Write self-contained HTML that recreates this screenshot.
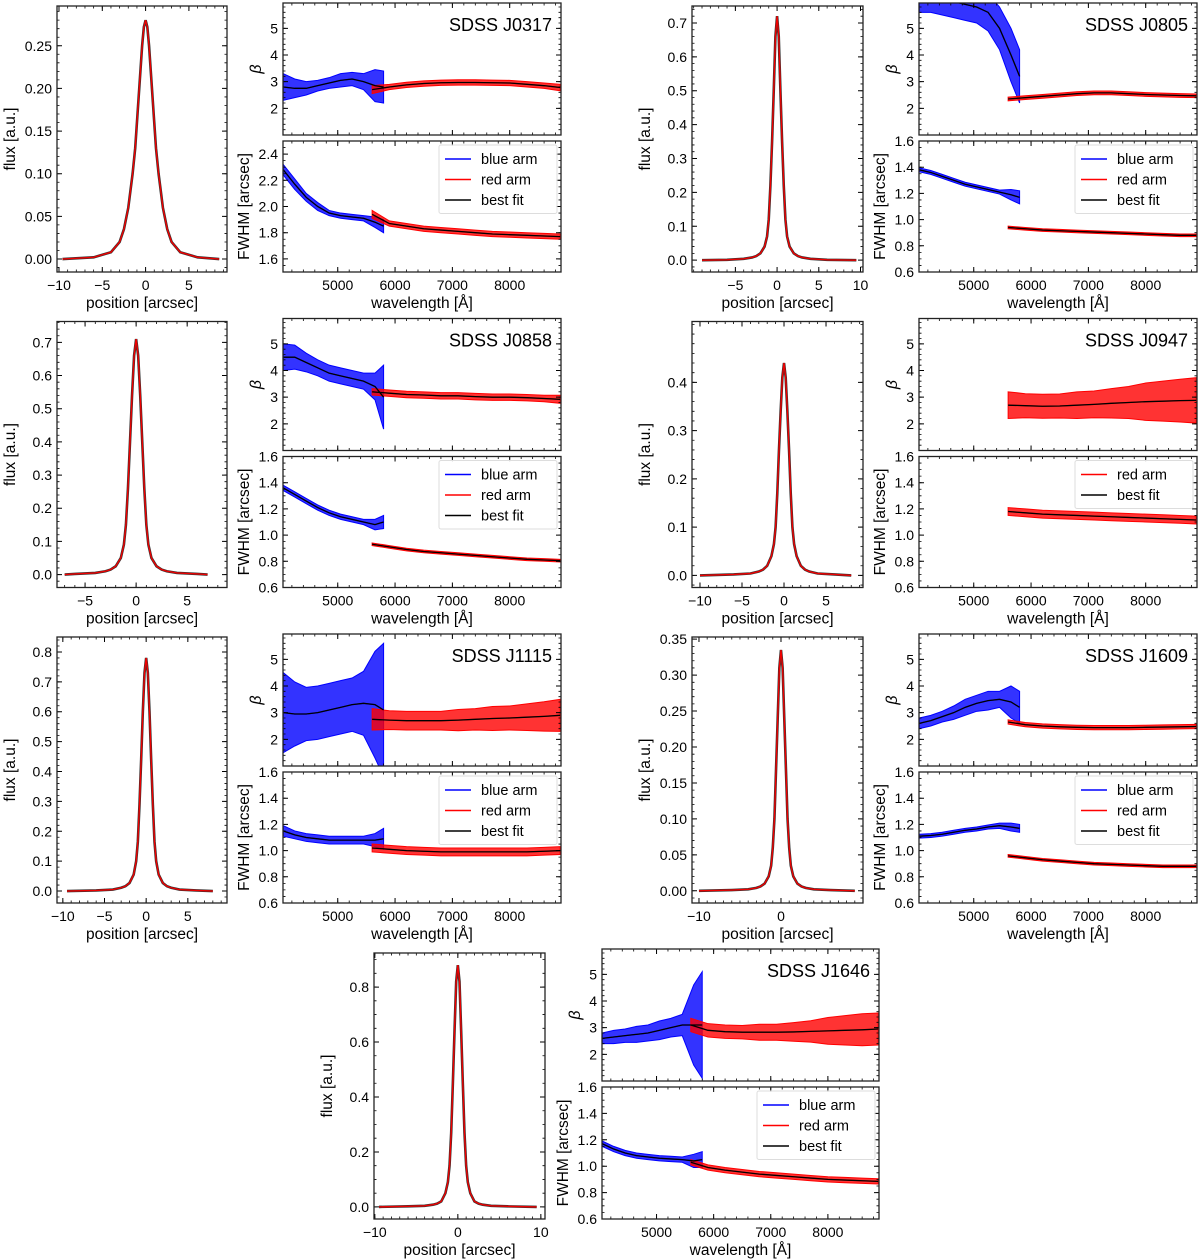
<!DOCTYPE html>
<html><head><meta charset="utf-8"><style>
html,body{margin:0;padding:0;background:#fff;}
svg{display:block;font-family:"Liberation Sans","DejaVu Sans",sans-serif;}
</style></head><body>
<svg id="fig" width="1200" height="1260" viewBox="0 0 1200 1260" xmlns="http://www.w3.org/2000/svg"></svg>
<script>
// ---- data ----
const objectNames = ["SDSS J0317","SDSS J0805","SDSS J0858","SDSS J0947","SDSS J1115","SDSS J1609","SDSS J1646"];
const blueWave = [4050,4250,4450,4650,4850,5050,5250,5450,5650,5800];
const redWave = [5600,5900,6200,6500,6800,7100,7400,7700,8000,8300,8600,8880];
const profilePos = [-10,-6,-4,-3,-2.5,-2,-1.5,-1.2,-1,-0.8,-0.6,-0.4,-0.2,0,0.2,0.4,0.6,0.8,1,1.2,1.5,2,2.5,3,4,6,10];

const betaBlue = [
 [2.8,2.75,2.75,2.85,2.95,3.05,3.1,3.0,2.85,2.8],
 [6.2,6.2,6.1,6.0,5.9,5.8,5.6,5.0,4.0,3.2],
 [4.5,4.5,4.3,4.1,3.9,3.8,3.7,3.6,3.4,3.0],
 null,
 [3.0,2.95,2.95,3.0,3.1,3.2,3.3,3.35,3.3,3.1],
 [2.6,2.7,2.85,3.0,3.2,3.35,3.45,3.5,3.4,3.2],
 [2.6,2.65,2.7,2.75,2.8,2.9,3.0,3.1,3.1,3.1]];
const betaBlueSpread = [
 [0.5,0.35,0.25,0.2,0.2,0.25,0.25,0.3,0.6,0.6],
 [0.6,0.6,0.6,0.6,0.6,0.6,0.7,0.8,1.0,1.0],
 [0.5,0.45,0.35,0.3,0.3,0.3,0.3,0.3,0.5,1.2],
 null,
 [1.5,1.2,1.0,1.0,1.0,1.0,1.0,1.2,2.0,2.5],
 [0.2,0.2,0.2,0.25,0.3,0.3,0.35,0.3,0.6,0.6],
 [0.2,0.25,0.25,0.3,0.3,0.35,0.35,0.4,1.5,2.0]];
const betaRed = [
 [2.7,2.8,2.88,2.93,2.96,2.97,2.97,2.96,2.95,2.9,2.85,2.78],
 [2.35,2.4,2.45,2.5,2.55,2.58,2.58,2.55,2.52,2.5,2.48,2.47],
 [3.2,3.15,3.1,3.08,3.05,3.05,3.02,3.0,3.0,2.98,2.95,2.92],
 [2.7,2.68,2.66,2.67,2.7,2.73,2.77,2.8,2.83,2.85,2.87,2.88],
 [2.75,2.72,2.7,2.7,2.7,2.72,2.75,2.78,2.8,2.83,2.86,2.9],
 [2.65,2.55,2.5,2.47,2.45,2.44,2.44,2.44,2.45,2.46,2.47,2.48],
 [3.1,2.9,2.85,2.83,2.83,2.83,2.84,2.86,2.88,2.9,2.92,2.95]];
const betaRedSpread = [
 [0.15,0.1,0.1,0.1,0.1,0.1,0.1,0.1,0.1,0.1,0.1,0.12],
 [0.07,0.07,0.07,0.07,0.07,0.07,0.07,0.07,0.07,0.07,0.07,0.07],
 [0.12,0.12,0.12,0.12,0.12,0.12,0.12,0.12,0.12,0.12,0.12,0.15],
 [0.5,0.45,0.45,0.45,0.5,0.5,0.55,0.6,0.7,0.75,0.8,0.85],
 [0.4,0.35,0.35,0.35,0.35,0.4,0.4,0.45,0.45,0.5,0.55,0.6],
 [0.08,0.08,0.08,0.08,0.08,0.08,0.08,0.08,0.08,0.08,0.08,0.08],
 [0.25,0.25,0.25,0.25,0.3,0.3,0.35,0.4,0.5,0.55,0.6,0.6]];
const fwhmBlue = [
 [2.28,2.17,2.07,2.0,1.95,1.93,1.92,1.91,1.88,1.85],
 [1.38,1.36,1.33,1.30,1.27,1.25,1.23,1.21,1.19,1.17],
 [1.36,1.31,1.26,1.21,1.17,1.14,1.12,1.10,1.08,1.10],
 null,
 [1.15,1.12,1.10,1.09,1.08,1.08,1.08,1.08,1.08,1.09],
 [1.11,1.115,1.125,1.14,1.155,1.165,1.18,1.19,1.18,1.17],
 [1.17,1.13,1.10,1.08,1.07,1.06,1.055,1.05,1.04,1.05]];
const fwhmBlueSpread = [
 [0.04,0.04,0.03,0.03,0.02,0.02,0.02,0.02,0.04,0.05],
 [0.015,0.015,0.015,0.015,0.015,0.015,0.015,0.015,0.04,0.05],
 [0.02,0.02,0.02,0.02,0.02,0.02,0.02,0.02,0.04,0.05],
 null,
 [0.04,0.03,0.03,0.03,0.03,0.03,0.03,0.03,0.05,0.08],
 [0.015,0.015,0.015,0.015,0.015,0.015,0.015,0.02,0.03,0.03],
 [0.02,0.02,0.02,0.02,0.02,0.02,0.02,0.02,0.05,0.06]];
const fwhmRed = [
 [1.94,1.87,1.85,1.83,1.82,1.81,1.80,1.79,1.785,1.78,1.775,1.77],
 [0.94,0.93,0.92,0.915,0.91,0.905,0.90,0.895,0.89,0.885,0.88,0.88],
 [0.93,0.91,0.89,0.875,0.865,0.855,0.845,0.835,0.825,0.815,0.81,0.805],
 [1.18,1.17,1.16,1.155,1.15,1.145,1.14,1.135,1.13,1.125,1.12,1.115],
 [1.02,1.01,1.0,0.995,0.99,0.99,0.99,0.99,0.99,0.99,0.995,1.0],
 [0.96,0.945,0.93,0.92,0.91,0.90,0.895,0.89,0.885,0.88,0.88,0.88],
 [1.03,0.99,0.97,0.955,0.94,0.93,0.92,0.91,0.90,0.895,0.89,0.885]];
const fwhmRedSpread = [
 [0.03,0.02,0.02,0.02,0.02,0.02,0.02,0.02,0.02,0.02,0.02,0.02],
 [0.01,0.01,0.01,0.01,0.01,0.01,0.01,0.01,0.01,0.01,0.01,0.01],
 [0.01,0.01,0.01,0.01,0.01,0.01,0.01,0.01,0.01,0.01,0.01,0.01],
 [0.03,0.03,0.03,0.03,0.03,0.03,0.03,0.03,0.03,0.03,0.03,0.03],
 [0.03,0.03,0.03,0.03,0.03,0.03,0.03,0.03,0.03,0.03,0.03,0.03],
 [0.01,0.01,0.01,0.01,0.01,0.01,0.01,0.01,0.01,0.01,0.01,0.01],
 [0.02,0.02,0.02,0.02,0.02,0.02,0.02,0.02,0.02,0.02,0.02,0.02]];
const profileFlux = [
 [0,0.002,0.008,0.02,0.035,0.06,0.1,0.13,0.16,0.19,0.22,0.25,0.272,0.28,0.272,0.25,0.22,0.19,0.16,0.13,0.1,0.06,0.035,0.02,0.008,0.002,0],
 [0,0.001,0.004,0.008,0.012,0.02,0.04,0.07,0.12,0.22,0.35,0.5,0.66,0.72,0.66,0.5,0.35,0.22,0.12,0.07,0.04,0.02,0.012,0.008,0.004,0.001,0],
 [0,0.002,0.005,0.01,0.015,0.025,0.05,0.09,0.15,0.26,0.4,0.54,0.66,0.71,0.66,0.54,0.4,0.26,0.15,0.09,0.05,0.025,0.015,0.01,0.005,0.002,0],
 [0,0.002,0.004,0.008,0.012,0.02,0.04,0.065,0.1,0.17,0.26,0.34,0.41,0.44,0.41,0.34,0.26,0.17,0.1,0.065,0.04,0.02,0.012,0.008,0.004,0.002,0],
 [0,0.002,0.005,0.011,0.016,0.027,0.055,0.1,0.165,0.29,0.44,0.6,0.73,0.78,0.73,0.6,0.44,0.29,0.165,0.1,0.055,0.027,0.016,0.011,0.005,0.002,0],
 [0,0.001,0.002,0.004,0.006,0.01,0.02,0.035,0.06,0.1,0.17,0.24,0.31,0.335,0.31,0.24,0.17,0.1,0.06,0.035,0.02,0.01,0.006,0.004,0.002,0.001,0],
 [0,0.002,0.004,0.008,0.012,0.02,0.05,0.09,0.15,0.27,0.45,0.64,0.82,0.88,0.82,0.64,0.45,0.27,0.15,0.09,0.05,0.02,0.012,0.008,0.004,0.002,0]];
const profXRange = [[-10.23,9.4],[-10.2,10.3],[-7.75,8.9],[-10.95,9.4],[-10.7,9.7],[-10.85,10.0],[-10.1,10.5]];
const profYRange = [[-0.0152,0.2966],[-0.035,0.75],[-0.039,0.763],[-0.025,0.526],[-0.04,0.85],[-0.017,0.353],[-0.044,0.924]];
const profDataRange = [[-9.6,8.5],[-9,9.5],[-7,7],[-10,8],[-9.5,8],[-10,9],[-9.5,9.5]];
const profYTicks = [[0,0.05,0.1,0.15,0.2,0.25],[0,0.1,0.2,0.3,0.4,0.5,0.6,0.7],[0,0.1,0.2,0.3,0.4,0.5,0.6,0.7],[0,0.1,0.2,0.3,0.4],[0,0.1,0.2,0.3,0.4,0.5,0.6,0.7,0.8],[0,0.05,0.1,0.15,0.2,0.25,0.3,0.35],[0,0.2,0.4,0.6,0.8]];
const profYDec = [2,1,1,1,1,2,1];
const profYMinor = [0.01,0.02,0.02,0.02,0.02,0.01,0.05];
const profXTicks = [[-10,-5,0,5],[-5,0,5,10],[-5,0,5],[-10,-5,0,5],[-10,-5,0,5],[-10,0],[-10,0,10]];
const fwhmRange = [[1.5,2.5],[0.6,1.6],[0.6,1.6],[0.6,1.6],[0.6,1.6],[0.6,1.6],[0.6,1.6]];
const fwhmTicks = [[1.6,1.8,2.0,2.2,2.4],[0.6,0.8,1.0,1.2,1.4,1.6],[0.6,0.8,1.0,1.2,1.4,1.6],[0.6,0.8,1.0,1.2,1.4,1.6],[0.6,0.8,1.0,1.2,1.4,1.6],[0.6,0.8,1.0,1.2,1.4,1.6],[0.6,0.8,1.0,1.2,1.4,1.6]];
const betaTicks = [2,3,4,5];
const waveTicks = [5000,6000,7000,8000];
const betaRange = [1.0,5.95];
const waveRange = [4045,8895];

// ---- layout ----
function layout(i){
  if(i===6) return {px:[374,545],py:[953,1219],bx:[602,879],by:[949,1081],fy:[1087,1219]};
  const col=i%2, row=Math.floor(i/2), o=row*315.5;
  const px = col? [692,863]:[57,227];
  const bx = col? [919,1197]:[283,561];
  return {px:px,py:[6+o,272+o],bx:bx,by:[3+o,135+o],fy:[141+o,272+o]};
}
const NS="http://www.w3.org/2000/svg";
const fig=document.getElementById('fig');
function el(tag,attrs,parent){const e=document.createElementNS(NS,tag);for(const k in attrs)e.setAttribute(k,attrs[k]);(parent||fig).appendChild(e);return e;}
function fmt(v,d){const s=Math.abs(v).toFixed(d);return (v<-1e-9?"\u2212":"")+s;}
let clipId=0;
const TICKFS=14, LABFS=15.5;

function axesFrame(g,x0,x1,y0,y1,sx,sy,xt,xmin,yt,ymin,xlab,xdec,ydec,name){
  if(xmin){const a=Math.ceil(sx.d0/xmin),b=Math.floor(sx.d1/xmin);for(let k=a;k<=b;k++){const X=sx(k*xmin);
    const t=el('path',{d:`M${X},${y1}v-2.5M${X},${y0}v2.5`,stroke:'#000','stroke-width':0.8},g);
    }}
  if(ymin){const a=Math.ceil(sy.d0/ymin-1e-6),b=Math.floor(sy.d1/ymin+1e-6);for(let k=a;k<=b;k++){const Y=sy(k*ymin);
    const t=el('path',{d:`M${x0},${Y}h2.5M${x1},${Y}h-2.5`,stroke:'#000','stroke-width':0.8},g);
    }}
  xt.forEach(v=>{const X=sx(v);
    const t=el('path',{d:`M${X},${y1}v-5M${X},${y0}v5`,stroke:'#000','stroke-width':1},g);
    
    if(xlab){const l=el('text',{x:X,y:y1+18,'font-size':TICKFS,'text-anchor':'middle'},g);l.textContent=fmt(v,xdec);
    }});
  yt.forEach(v=>{const Y=sy(v);
    const t=el('path',{d:`M${x0},${Y}h5M${x1},${Y}h-5`,stroke:'#000','stroke-width':1},g);
    
    const l=el('text',{x:x0-5,y:Y+5,'font-size':TICKFS,'text-anchor':'end'},g);l.textContent=fmt(v,ydec);
    });
  const f=el('rect',{x:x0,y:y0,width:x1-x0,height:y1-y0,fill:'none',stroke:'#222','stroke-width':1.3},g);
  
}
function scale(d0,d1,r0,r1){const s=v=>r0+(v-d0)*(r1-r0)/(d1-d0);s.d0=Math.min(d0,d1);s.d1=Math.max(d0,d1);return s;}
function clip(g,x0,y0,w,h){const id='c'+(clipId++);const cp=el('clipPath',{id:id},g);el('rect',{x:x0,y:y0,width:w,height:h},cp);return 'url(#'+id+')';}
function band(g,sx,sy,W,mid,spr,color,name){
  let pts=[];for(let k=0;k<W.length;k++)pts.push(sx(W[k])+','+sy(mid[k]+spr[k]));
  for(let k=W.length-1;k>=0;k--)pts.push(sx(W[k])+','+sy(mid[k]-spr[k]));
  const p=el('polygon',{points:pts.join(' '),fill:color,'fill-opacity':0.8,stroke:color,'stroke-width':1},g);
  
  const l=el('polyline',{points:W.map((w,k)=>sx(w)+','+sy(mid[k])).join(' '),fill:'none',stroke:color,'stroke-width':1.2},g);
  
}
function fitLine(g,sx,sy,W,mid,name){
  const l=el('polyline',{points:W.map((w,k)=>sx(w)+','+sy(mid[k])).join(' '),fill:'none',stroke:'#000','stroke-width':1.3},g);
  
}

for(let i=0;i<7;i++){
  const L=layout(i);
  const g=el('g',{});
  
  
  // ---- profile ----
  const sx=scale(profXRange[i][0],profXRange[i][1],L.px[0],L.px[1]);
  const sy=scale(profYRange[i][0],profYRange[i][1],L.py[1],L.py[0]);
  const pg=el('g',{},g);
  
  
  const cpP=clip(pg,L.px[0],L.py[0],L.px[1]-L.px[0],L.py[1]-L.py[0]);
  const dg=el('g',{'clip-path':cpP},pg);
  const pts=profilePos.map((p,k)=>[Math.max(profDataRange[i][0],Math.min(profDataRange[i][1],p)),profileFlux[i][k]]);
  const pd=el('polyline',{points:pts.map(q=>sx(q[0])+','+sy(q[1])).join(' '),fill:'none',stroke:'#333','stroke-width':2.6},dg);
  
  
  const pf=el('polyline',{points:pts.map(q=>sx(q[0])+','+sy(q[1])).join(' '),fill:'none',stroke:'#e00','stroke-width':1.4},dg);
  
  
  axesFrame(pg,L.px[0],L.px[1],L.py[0],L.py[1],sx,sy,profXTicks[i],1,profYTicks[i],profYMinor[i],true,0,profYDec[i],'profile');
  const xl=el('text',{x:(L.px[0]+L.px[1])/2,y:L.py[1]+36,'font-size':LABFS,'text-anchor':'middle'},pg);xl.textContent='position [arcsec]';
  
  
  const yl=el('text',{x:0,y:0,'font-size':LABFS,'text-anchor':'middle',transform:`translate(${L.px[0]-42},${(L.py[0]+L.py[1])/2}) rotate(-90)`},pg);yl.textContent='flux [a.u.]';
  
  

  // ---- beta ----
  const wx=scale(waveRange[0],waveRange[1],L.bx[0],L.bx[1]);
  const by=scale(betaRange[0],betaRange[1],L.by[1],L.by[0]);
  const bg=el('g',{},g);
  
  
  const cpB=clip(bg,L.bx[0],L.by[0],L.bx[1]-L.bx[0],L.by[1]-L.by[0]);
  const bd=el('g',{'clip-path':cpB},bg);
  if(betaBlue[i]) band(bd,wx,by,blueWave,betaBlue[i],betaBlueSpread[i],'#0000ff','beta-blue-arm');
  band(bd,wx,by,redWave,betaRed[i],betaRedSpread[i],'#ff0000','beta-red-arm');
  if(betaBlue[i]) fitLine(bd,wx,by,blueWave,betaBlue[i],'beta-blue-fit');
  fitLine(bd,wx,by,redWave,betaRed[i],'beta-red-fit');
  axesFrame(bg,L.bx[0],L.bx[1],L.by[0],L.by[1],wx,by,waveTicks,200,betaTicks,0.2,false,0,0,'beta');
  const tt=el('text',{x:L.bx[1]-9,y:L.by[0]+28,'font-size':18,'text-anchor':'end'},bg);tt.textContent=objectNames[i];
  
  
  const bl=el('text',{x:0,y:0,'font-size':16,'font-style':'italic','text-anchor':'middle',transform:`translate(${L.bx[0]-22},${(L.by[0]+L.by[1])/2}) rotate(-90)`},bg);bl.textContent='β';
  
  

  // ---- fwhm ----
  const fy=scale(fwhmRange[i][0],fwhmRange[i][1],L.fy[1],L.fy[0]);
  const fg=el('g',{},g);
  
  
  const cpF=clip(fg,L.bx[0],L.fy[0],L.bx[1]-L.bx[0],L.fy[1]-L.fy[0]);
  const fd=el('g',{'clip-path':cpF},fg);
  if(fwhmBlue[i]) band(fd,wx,fy,blueWave,fwhmBlue[i],fwhmBlueSpread[i],'#0000ff','fwhm-blue-arm');
  band(fd,wx,fy,redWave,fwhmRed[i],fwhmRedSpread[i],'#ff0000','fwhm-red-arm');
  if(fwhmBlue[i]) fitLine(fd,wx,fy,blueWave,fwhmBlue[i],'fwhm-blue-fit');
  fitLine(fd,wx,fy,redWave,fwhmRed[i],'fwhm-red-fit');
  axesFrame(fg,L.bx[0],L.bx[1],L.fy[0],L.fy[1],wx,fy,waveTicks,200,fwhmTicks[i],0.05,true,0,1,'fwhm');
  const wl=el('text',{x:(L.bx[0]+L.bx[1])/2,y:L.fy[1]+36,'font-size':LABFS,'text-anchor':'middle'},fg);wl.textContent='wavelength [Å]';
  
  
  const fl=el('text',{x:0,y:0,'font-size':LABFS,'text-anchor':'middle',transform:`translate(${L.bx[0]-34},${(L.fy[0]+L.fy[1])/2}) rotate(-90)`},fg);fl.textContent='FWHM [arcsec]';
  
  
  // legend
  const entries = betaBlue[i] ? [['blue arm','#0000ff'],['red arm','#ff0000'],['best fit','#000']] : [['red arm','#ff0000'],['best fit','#000']];
  const lw=118, lx=L.bx[1]-lw-4, ly=L.fy[0]+4, lh=entries.length*20.5+7;
  const lg=el('g',{},fg);
  
  
  const lr=el('rect',{x:lx,y:ly,width:lw,height:lh,rx:2,fill:'#fff','fill-opacity':0.85,stroke:'#ddd'},lg);
  
  
  entries.forEach((e,k)=>{const yy=ly+14+k*20.5;
    const ln=el('line',{x1:lx+6,x2:lx+32,y1:yy,y2:yy,stroke:e[1],'stroke-width':1.5},lg);
    
    
    const tx=el('text',{x:lx+42,y:yy+5,'font-size':14.5},lg);tx.textContent=e[0];
    
    });
}
</script>
</body></html>
